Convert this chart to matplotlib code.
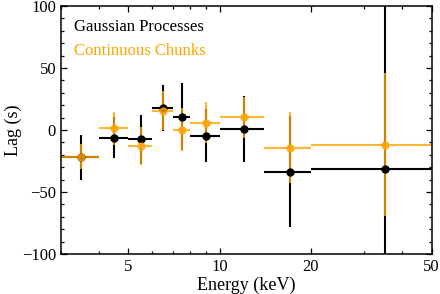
#!/usr/bin/env python
"""Plot the lag-energy spectrum from both methods."""

import matplotlib

matplotlib.use("Agg")

import matplotlib.pyplot as plt
from matplotlib.ticker import FixedLocator, NullFormatter, MultipleLocator

# energy bins (keV)
bin_lo = [3, 4, 5, 6, 7, 8, 10, 14, 20]
bin_hi = [4, 5, 6, 7, 8, 10, 14, 20, 50]

# Gaussian processes
gp_lag = [-22.0, -6.2, -7.6, 17.6, 10.7, -4.6, 0.8, -33.6, -31.5]
gp_err = [18.0, 16.6, 19.7, 18.7, 27.0, 21.4, 26.8, 45.0, 150.0]

# continuous chunks
cc_lag = [-21.5, 1.3, -12.9, 15.5, 0.3, 5.9, 10.2, -14.2, -12.0]
cc_err = [10.0, 13.5, 15.3, 15.5, 17.0, 16.4, 16.7, 28.5, 57.5]

energy = [0.5 * (lo + hi) for lo, hi in zip(bin_lo, bin_hi)]
x_err = [
    [e - lo for e, lo in zip(energy, bin_lo)],
    [hi - e for e, hi in zip(energy, bin_hi)],
]

plt.rcParams["font.family"] = ["Liberation Serif", "DejaVu Serif"]
plt.rcParams["mathtext.fontset"] = "stix"
plt.rcParams["font.size"] = 12

figure = plt.figure(figsize=(4.4, 2.94), dpi=100)
axis = figure.add_axes([0.1386, 0.136, 0.8425, 0.844])

style = dict(fmt="o", markersize=5, elinewidth=1.5, capsize=0)
axis.errorbar(energy, gp_lag, xerr=x_err, yerr=gp_err, color="black", **style)
axis.errorbar(energy, cc_lag, xerr=x_err, yerr=cc_err, color="orange", alpha=0.8, **style)

axis.set_xscale("log")
axis.set_xlim(3, 50)
axis.set_ylim(-100, 100)

axis.xaxis.set_major_locator(FixedLocator([5, 10, 20, 50]))
axis.xaxis.set_major_formatter(plt.FuncFormatter(lambda v, _: f"{v:g}"))
axis.xaxis.set_minor_locator(FixedLocator([3, 4, 6, 7, 8, 9, 30, 40]))
axis.xaxis.set_minor_formatter(NullFormatter())
axis.yaxis.set_major_locator(MultipleLocator(50))
axis.yaxis.set_minor_locator(MultipleLocator(10))

axis.tick_params(which="both", direction="in", top=True, right=True, width=0.9)
axis.tick_params(which="major", length=4.5)
axis.tick_params(which="minor", length=2.5)
for spine in axis.spines.values():
    spine.set_linewidth(1.1)

axis.set_xlabel("Energy (keV)", fontsize=13, labelpad=1)
axis.set_ylabel("Lag (s)", fontsize=13, labelpad=0)

axis.text(0.035, 0.915, "Gaussian Processes", color="black",
          transform=axis.transAxes, va="center")
axis.text(0.035, 0.818, "Continuous Chunks", color="orange",
          transform=axis.transAxes, va="center")

figure.savefig("out.png", dpi=100)
